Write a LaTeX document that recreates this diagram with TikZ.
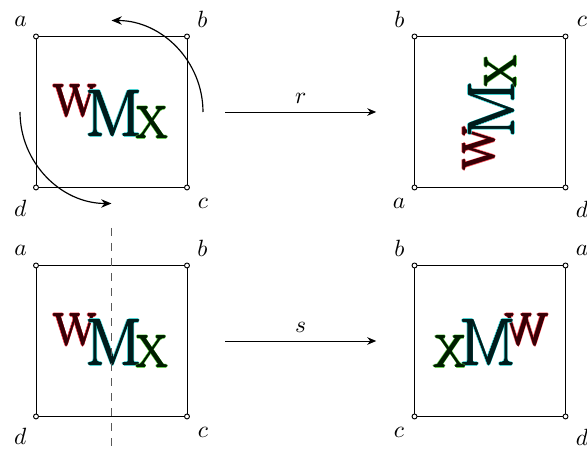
\documentclass[tikz,border=0pt]{standalone}
\usepackage{fontspec}
\usetikzlibrary{arrows.meta}

\definecolor{wglow}{HTML}{E8404A}
\definecolor{wdark}{HTML}{380006}
\definecolor{mglow}{HTML}{40D0D0}
\definecolor{mdark}{HTML}{001C1C}
\definecolor{xglow}{HTML}{60CC48}
\definecolor{xdark}{HTML}{001E00}

% one letter with its coloured halo
\newcommand\glowglyph[6]{%
  \foreach \ang in {0,45,...,315}
    \node[glyph,text=#2,shift={(\ang:1.3)}] at (#5) {\fontsize{#4}{#4}\selectfont #6};
  \foreach \ang in {0,45,...,315}
    \node[glyph,text=#3,shift={(\ang:0.5)}] at (#5) {\fontsize{#4}{#4}\selectfont #6};
  \node[glyph,text=#3] (#1) at (#5) {\fontsize{#4}{#4}\selectfont #6};
}
\newcommand\wmxgroup[1]{%
  \glowglyph{#1w}{wglow}{wdark}{19pt}{-58,-4}{W}
  \glowglyph{#1m}{mglow}{mdark}{28pt}{-25.5,-24}{M}
  \glowglyph{#1x}{xglow}{xdark}{19pt}{25,-26}{X}
}

\begin{document}
\begin{tikzpicture}[x=0.4255pt,y=0.4255pt,
  sq/.style={draw,minimum size=64.25pt,inner sep=0pt,outer sep=0pt},
  dot/.style={circle,draw,fill=white,inner sep=0pt,minimum size=2.1pt},
  lbl/.style={inner sep=0pt},
  glyph/.style={inner sep=0pt,outer sep=0pt,anchor=base west},
  map/.style={-{Stealth[length=3.8pt,width=3.2pt]},shorten <=16.2pt,shorten >=16.3pt},
  turn/.style={-{Stealth[length=4.4pt,width=3.6pt]},line width=0.5pt},
  mirror/.style={dash pattern=on 3.4pt off 3pt,black!65,line width=0.7pt}]
\useasboundingbox (0,0) rectangle (587,-450);
\node[sq] (sqA) at (111.5,-112) {};
\node[sq] (sqB) at (490,-112) {};
\node[sq] (sqC) at (111.5,-341) {};
\node[sq] (sqD) at (490,-341) {};
% the letters
\begin{scope}[shift={(sqA.center)}]
  \wmxgroup{ga}
\end{scope}
\begin{scope}[shift={(sqB.center)},rotate=90,transform shape]
  \wmxgroup{gb}
\end{scope}
\begin{scope}[shift={(sqC.center)}]
  \wmxgroup{gc}
\end{scope}
\begin{scope}[shift={(sqD.center)},xscale=-1,transform shape]
  \wmxgroup{gd}
\end{scope}
% corners
\foreach \s in {sqA,sqB,sqC,sqD}
  \foreach \c/\k in {north west/nw,north east/ne,south east/se,south west/sw}
    \node[dot] (\s\k) at (\s.\c) {};
\node[lbl] (aA) at ([shift={(-15.5,15.3)}]sqA.north west) {$a$};
\node[lbl] (bA) at ([shift={(15.5,17.3)}]sqA.north east) {$b$};
\node[lbl] (cA) at ([shift={(16,-15.5)}]sqA.south east) {$c$};
\node[lbl] (dA) at ([shift={(-15.7,-21)}]sqA.south west) {$d$};
\node[lbl] (bB) at ([shift={(-15,17.3)}]sqB.north west) {$b$};
\node[lbl] (cB) at ([shift={(16.5,15.5)}]sqB.north east) {$c$};
\node[lbl] (dB) at ([shift={(16.5,-22)}]sqB.south east) {$d$};
\node[lbl] (aB) at ([shift={(-15.5,-15.5)}]sqB.south west) {$a$};
\node[lbl] (aC) at ([shift={(-15.5,15.3)}]sqC.north west) {$a$};
\node[lbl] (bC) at ([shift={(15.5,17.3)}]sqC.north east) {$b$};
\node[lbl] (cC) at ([shift={(16,-15.5)}]sqC.south east) {$c$};
\node[lbl] (dC) at ([shift={(-15.7,-20)}]sqC.south west) {$d$};
\node[lbl] (bD) at ([shift={(-15,17.3)}]sqD.north west) {$b$};
\node[lbl] (aD) at ([shift={(16.5,15.5)}]sqD.north east) {$a$};
\node[lbl] (dD) at ([shift={(16.5,-21)}]sqD.south east) {$d$};
\node[lbl] (cD) at ([shift={(-15.5,-15.5)}]sqD.south west) {$c$};
% rotation and reflection
\draw[turn] ([xshift=38.93pt]sqA.center) arc[start angle=0,end angle=90,radius=38.93pt];
\draw[turn] ([xshift=-38.93pt]sqA.center) arc[start angle=180,end angle=270,radius=38.93pt];
\draw[mirror] ([yshift=16pt]sqC.north) -- ([yshift=-16pt]sqC.south);
\draw[map] (sqA) -- node[above] (lr) {$r$} (sqB);
\draw[map] (sqC) -- node[above] (ls) {$s$} (sqD);
\end{tikzpicture}
\end{document}
